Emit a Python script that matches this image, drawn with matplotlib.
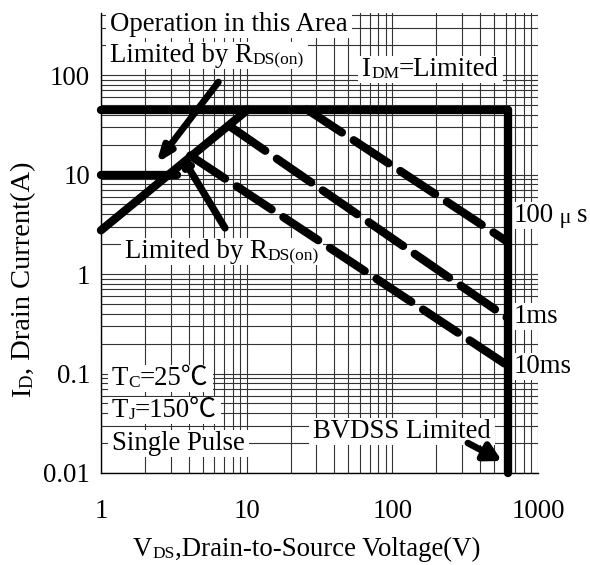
import matplotlib
matplotlib.use('Agg')
import matplotlib.pyplot as plt
from matplotlib.ticker import LogLocator, NullFormatter
from matplotlib.patches import Rectangle
from matplotlib.transforms import IdentityTransform, Bbox

W, H = 590, 565
FONT = ['Liberation Serif', 'Noto Sans CJK JP', 'DejaVu Sans']
plt.rcParams['font.family'] = FONT

# ---------------- data ----------------
x_ticks = [1, 10, 100, 1000]
x_tick_labels = ['1', '10', '100', '1000']
y_ticks = [0.01, 0.1, 1, 10, 100]
y_tick_labels = ['0.01', '0.1', '1', '10', '100']

bvdss = 620
idm = 45
idm_v = [1, bvdss]
idm_i = [idm, idm]
bv_v = [bvdss, bvdss]
bv_i = [idm, 0.01]
dc_v = [1, 3.3]
dc_i = [10, 10]
rds_v = [1, 10.2]
rds_i = [2.75, 45]
us100_v = [26, bvdss]
us100_i = [45, 2.1]
ms1_v = [7.8, bvdss]
ms1_i = [30, 0.36]
ms10_v = [4.1, bvdss]
ms10_i = [15.5, 0.12]

arrow_top_from = (6.4, 85)
arrow_top_to = (2.4, 13)
arrow_bot_from = (7.1, 2.9)
arrow_bot_to = (3.6, 15)
arrow_bv_from = (330, 0.020)
arrow_bv_to = (566, 0.0132)

# ---------------- figure ----------------
fig = plt.figure(figsize=(W / 100, H / 100), dpi=100)
ax = fig.add_axes([101 / W, 1 - 473 / H, (538 - 101) / W, (473 - 13) / H])
ax.set_xscale('log')
ax.set_yscale('log')
ax.set_xlim(1, 1000)
ax.set_ylim(0.01, 420)

ax.set_xticks(x_ticks, x_tick_labels)
ax.set_yticks(y_ticks, y_tick_labels)
ax.xaxis.set_minor_locator(LogLocator(base=10, subs=range(2, 10), numticks=20))
ax.yaxis.set_minor_locator(LogLocator(base=10, subs=range(2, 10), numticks=20))
ax.xaxis.set_minor_formatter(NullFormatter())
ax.yaxis.set_minor_formatter(NullFormatter())
ax.set_axisbelow(True)
ax.grid(True, which='both', color='#333333', lw=0.8)
ax.tick_params(which='both', length=0)
ax.tick_params(axis='x', pad=19, labelsize=19.3)
ax.tick_params(axis='y', pad=8, labelsize=19.3)
for s in ('top', 'right'):
    ax.spines[s].set_visible(False)
for s in ('left', 'bottom'):
    ax.spines[s].set_linewidth(1.0)
    ax.spines[s].set_color('black')

LW = 6.0
solid = dict(color='black', lw=LW, solid_capstyle='round', clip_on=False, zorder=2)
dashed = dict(color='black', lw=LW, ls=(0, (5.0, 1.7)), dash_capstyle='round',
              clip_on=False, zorder=2)
ax.plot(idm_v, idm_i, **solid)
ax.plot(bv_v, bv_i, **solid)
ax.plot(dc_v, dc_i, **solid)
ax.plot(rds_v, rds_i, **solid)
ax.plot(us100_v, us100_i, **dashed)
ax.plot(ms1_v, ms1_i, **dashed)
ax.plot(ms10_v, ms10_i, **dashed)


def arrow(p_from, p_to, hl, hw, lw):
    ax.annotate('', xy=p_to, xytext=p_from, annotation_clip=False,
                arrowprops=dict(arrowstyle=f'-|>,head_length={hl},head_width={hw}',
                                lw=lw, color='black', shrinkA=0, shrinkB=0,
                                capstyle='round', mutation_scale=10), zorder=2)


arrow(arrow_top_from, arrow_top_to, 0.9, 0.35, 4.8)
arrow(arrow_bot_from, arrow_bot_to, 0.4, 0.25, 5.2)
arrow(arrow_bv_from, arrow_bv_to, 1.0, 0.55, 4.8)

# ---------------- texts ----------------
BIG, SMALL = 19.3, 12.5
chains = []


def px(x, y):
    return (x / W, 1 - y / H)


def rich(x, y, parts, rotation=0, box=False):
    first = None
    prev = None
    arts = []
    for s, size in parts:
        if first is None:
            if rotation == 0:
                t = ax.annotate(s, xy=px(x, y), xycoords='figure fraction',
                                ha='left', va='baseline', fontsize=size,
                                annotation_clip=False, zorder=4)
            else:
                t = ax.annotate(s, xy=px(x, y), xycoords='figure fraction',
                                ha='right', va='bottom', fontsize=size,
                                rotation=90, annotation_clip=False, zorder=4)
            first = t
        else:
            if rotation == 0:
                t = ax.annotate(s, xy=(1, 0), xycoords=(prev, first),
                                ha='left', va='bottom', fontsize=size,
                                annotation_clip=False, zorder=4)
            else:
                t = ax.annotate(s, xy=(1, 1), xycoords=(first, prev),
                                ha='right', va='bottom', fontsize=size,
                                rotation=90, annotation_clip=False, zorder=4)
        arts.append(t)
        prev = t
    if box:
        chains.append(arts)
    return arts


rich(110, 31, [('Operation in this Area', BIG)], box=True)
rich(110, 62, [('Limited by R', BIG), ('DS(on)', SMALL)], box=True)
rich(362, 76, [('I', BIG), ('DM', SMALL), ('=Limited', BIG)], box=True)
rich(514, 222, [('100', BIG), (' μ ', 16), ('s', BIG)], box=True)
rich(514, 323, [('1ms', BIG)], box=True)
rich(514, 373, [('10ms', BIG)], box=True)
rich(125, 258, [('Limited by R', BIG), ('DS(on)', SMALL)], box=True)
rich(112, 385, [('T', BIG), ('C', SMALL), ('=25℃', BIG)], box=True)
rich(112, 417, [('T', BIG), ('J', SMALL), ('=150℃', BIG)], box=True)
rich(112, 450, [('Single Pulse', BIG)], box=True)
rich(313, 438, [('BVDSS Limited', BIG)], box=True)
rich(133, 556, [('V', BIG), ('DS', SMALL), (',Drain-to-Source Voltage(V)', BIG)])
rich(36, 397, [('I', 20.5), ('D', 13.5), (', Drain Current(A)', 20.5)], rotation=90)

fig.canvas.draw()
r = fig.canvas.get_renderer()
for arts in chains:
    bb = Bbox.union([a.get_window_extent(r) for a in arts])
    padx, pady = 4, 1
    rect = Rectangle((bb.x0 - padx, bb.y0 - pady), bb.width + 2 * padx, bb.height + 2 * pady,
                     transform=IdentityTransform(), facecolor='white', edgecolor='none',
                     zorder=1, clip_on=False)
    ax.add_artist(rect)

fig.savefig('out.png', dpi=100)
